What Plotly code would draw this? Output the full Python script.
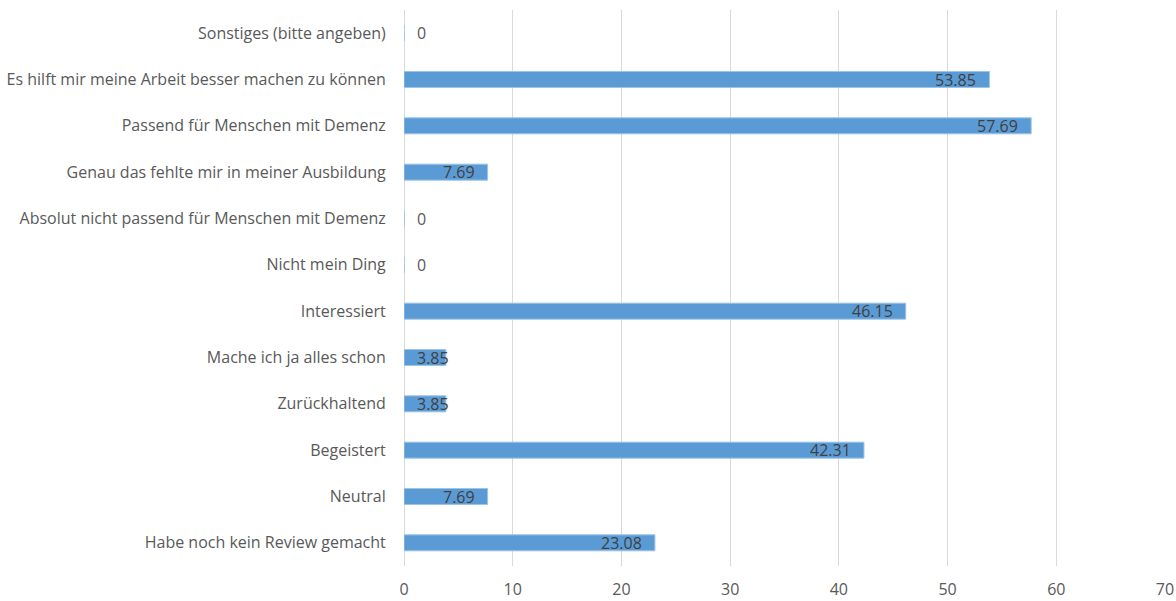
import plotly.graph_objects as go

categories = [
    "Habe noch kein Review gemacht",
    "Neutral",
    "Begeistert",
    "Zurückhaltend",
    "Mache ich ja alles schon",
    "Interessiert",
    "Nicht mein Ding",
    "Absolut nicht passend für Menschen mit Demenz",
    "Genau das fehlte mir in meiner Ausbildung",
    "Passend für Menschen mit Demenz",
    "Es hilft mir meine Arbeit besser machen zu können",
    "Sonstiges (bitte angeben)",
]
values = [23.08, 7.69, 42.31, 3.85, 3.85, 46.15, 0, 0, 7.69, 57.69, 53.85, 0]
x_ticks = [0, 10, 20, 30, 40, 50, 60, 70]

FONT = "'Open Sans', sans-serif"
X_MAX = 70
PLOT_W = 1176 - 404 - 11
PX_PER_UNIT = PLOT_W / X_MAX

fig = go.Figure(go.Bar(
    y=categories,
    x=values,
    orientation="h",
    marker=dict(color="#5b9bd5", line=dict(color="#9dc3e6", width=1)),
    width=0.345,
    hoverinfo="x+y",
))

annotations = []
for cat, v in zip(categories, values):
    if v == 0:
        annotations.append(dict(x=0, y=cat, text="0", xanchor="left", xshift=11,
                                showarrow=False,
                                font=dict(family=FONT, size=16, color="#595959")))
    else:
        txt = f"{v:.2f}"
        bar_px = v * PX_PER_UNIT
        if bar_px - 13 < 38 + 13:
            annotations.append(dict(x=0, y=cat, text=txt, xanchor="left", xshift=11,
                                    showarrow=False,
                                    font=dict(family=FONT, size=16, color="#404040")))
        else:
            annotations.append(dict(x=v, y=cat, text=txt, xanchor="right", xshift=-11,
                                    showarrow=False,
                                    font=dict(family=FONT, size=16, color="#404040")))

fig.update_layout(
    width=1176, height=601,
    margin=dict(l=404, r=11, t=10, b=35),
    paper_bgcolor="white", plot_bgcolor="white",
    showlegend=False,
    font=dict(family=FONT, size=16, color="#595959"),
    annotations=annotations,
)
fig.update_xaxes(
    range=[0, X_MAX], tickvals=x_ticks, showgrid=True, gridcolor="#d9d9d9", gridwidth=1,
    zeroline=True, zerolinecolor="#d9d9d9", zerolinewidth=1, showline=False,
    ticks="outside", ticklen=9, tickcolor="rgba(0,0,0,0)", automargin=False,
    tickfont=dict(family=FONT, size=16, color="#595959"),
)
fig.update_yaxes(
    categoryorder="array", categoryarray=categories, showgrid=False,
    ticks="outside", ticklen=14, tickcolor="rgba(0,0,0,0)", showline=False,
    automargin=False,
    tickfont=dict(family=FONT, size=16, color="#595959"),
)

fig.write_html("out.html")
